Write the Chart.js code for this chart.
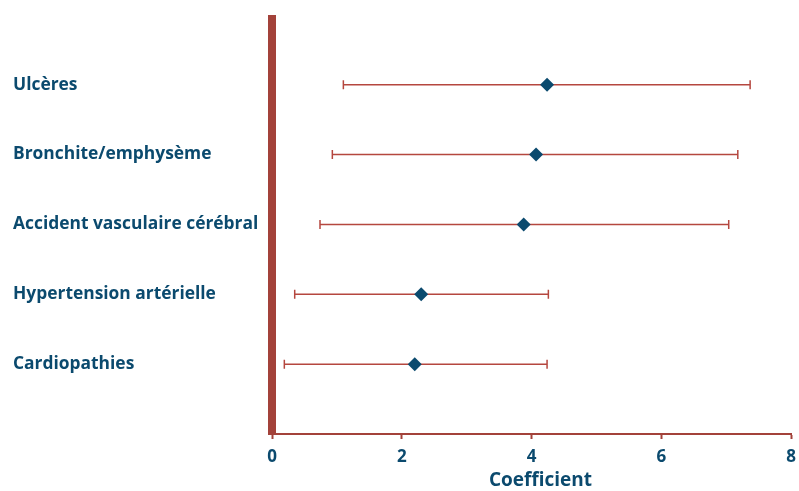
<!DOCTYPE html>
<html>
<head>
<meta charset="utf-8">
<script src="https://cdn.jsdelivr.net/npm/chart.js@4.4.1/dist/chart.umd.min.js"></script>
<style>
  html, body { margin: 0; padding: 0; background: #ffffff; }
  #wrap { width: 799px; height: 491px; }
</style>
</head>
<body>
<div id="wrap"><canvas id="c" width="799" height="491"></canvas></div>
<script>
// Conditions, listed from top to bottom
const categories = [
  'Ulcères',
  'Bronchite/emphysème',
  'Accident vasculaire cérébral',
  'Hypertension artérielle',
  'Cardiopathies'
];
// Point estimates of the coefficient
const estimates = [4.24, 4.07, 3.88, 2.30, 2.20];
// Confidence interval bounds
const lowerBounds = [1.10, 0.93, 0.74, 0.35, 0.19];
const upperBounds = [7.37, 7.18, 7.04, 4.26, 4.24];
// Axis tick values
const xTicks = [0, 2, 4, 6, 8];

const BLUE = '#0b4a6e';
const RED = '#a3423a';
const WHISKER = '#b5473f';
const FONT = '"Open Sans", Lato, sans-serif';

const nRows = categories.length;
const rowValue = i => nRows - i; // top row gets the highest y value

const points = estimates.map((v, i) => ({ x: v, y: rowValue(i) }));

// Horizontal interval lines with end caps, positioned through the chart scales
const intervalPlugin = {
  id: 'intervals',
  beforeDatasetsDraw(chart) {
    const { ctx, scales: { x, y } } = chart;
    ctx.save();
    ctx.strokeStyle = WHISKER;
    ctx.lineWidth = 1.5;
    const cap = 4.5;
    categories.forEach((_, i) => {
      const py = y.getPixelForValue(rowValue(i));
      const x0 = x.getPixelForValue(lowerBounds[i]);
      const x1 = x.getPixelForValue(upperBounds[i]);
      ctx.beginPath();
      ctx.moveTo(x0, py); ctx.lineTo(x1, py);
      ctx.moveTo(x0, py - cap); ctx.lineTo(x0, py + cap);
      ctx.moveTo(x1, py - cap); ctx.lineTo(x1, py + cap);
      ctx.stroke();
    });
    ctx.restore();
  }
};

// Axis title under the x axis
const xTitlePlugin = {
  id: 'xTitle',
  afterDraw(chart) {
    const { ctx, chartArea } = chart;
    ctx.save();
    ctx.font = 'bold 19px ' + FONT;
    ctx.fillStyle = BLUE;
    ctx.textAlign = 'center';
    ctx.textBaseline = 'middle';
    ctx.fillText('Coefficient', (chartArea.left + chartArea.right) / 2 + 9, 481);
    ctx.restore();
  }
};

new Chart(document.getElementById('c'), {
  type: 'scatter',
  data: {
    datasets: [{
      data: points,
      pointStyle: 'rectRot',
      pointRadius: 7,
      pointHoverRadius: 7,
      backgroundColor: BLUE,
      borderColor: BLUE,
      borderWidth: 0
    }]
  },
  options: {
    responsive: false,
    animation: false,
    events: [],
    layout: { padding: { left: 13, right: 8, top: 19, bottom: 0 } },
    plugins: {
      legend: { display: false },
      tooltip: { enabled: false }
    },
    scales: {
      x: {
        type: 'linear',
        min: 0,
        max: 8,
        afterBuildTicks: s => { s.ticks = xTicks.map(v => ({ value: v })); },
        afterFit: s => { s.height = 57; s.paddingRight = 0; s.paddingLeft = 0; },
        grid: {
          display: true,
          drawOnChartArea: false,
          drawTicks: true,
          tickLength: 5,
          tickWidth: 2,
          tickColor: RED
        },
        border: { display: true, color: RED, width: 2 },
        ticks: {
          color: BLUE,
          font: { family: FONT, size: 17, weight: 'bold' },
          padding: 8,
          maxRotation: 0
        }
      },
      y: {
        type: 'linear',
        min: 0,
        max: 5.94,
        afterBuildTicks: s => { s.ticks = categories.map((_, i) => ({ value: rowValue(i) })); },
        afterFit: s => { s.width = 259; },
        grid: { display: false, drawTicks: false },
        border: { display: true, color: RED, width: 8 },
        ticks: {
          color: BLUE,
          crossAlign: 'far',
          padding: 0,
          font: { family: FONT, size: 17.4, weight: 'bold' },
          callback: v => categories[nRows - v]
        }
      }
    }
  },
  plugins: [intervalPlugin, xTitlePlugin]
});
</script>
</body>
</html>
